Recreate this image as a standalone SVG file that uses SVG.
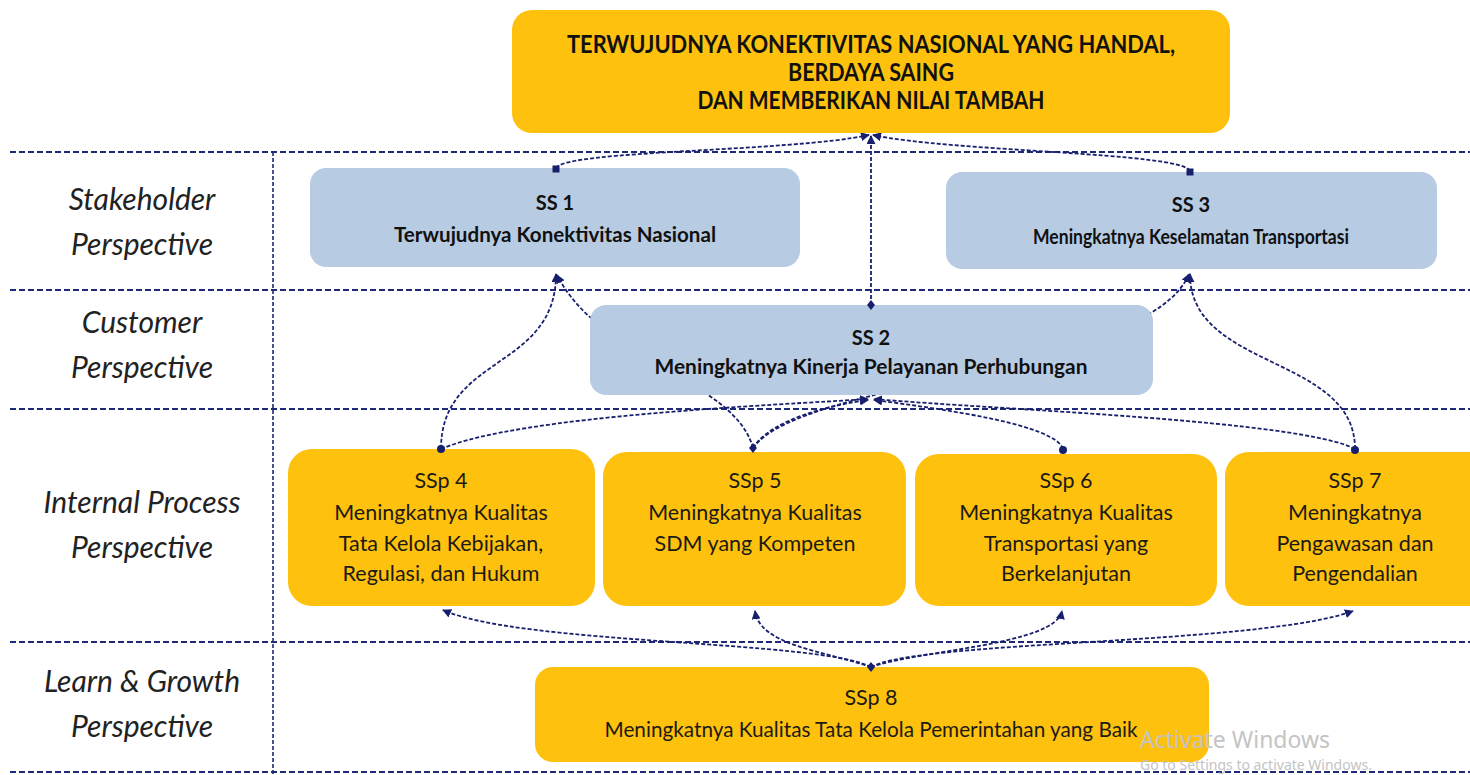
<svg xmlns="http://www.w3.org/2000/svg" width="1470" height="775" viewBox="0 0 1470 775">
<defs>
<style>
.gold{fill:#FEC10E;}
.blue{fill:#B7CBE3;}
.sep{stroke:#1E2A78;stroke-width:2;stroke-dasharray:6 3;fill:none;}
.con{stroke:#18206E;stroke-width:1.8;stroke-dasharray:4 2;fill:none;marker-end:url(#arr);}
.lab{font-family:Lato,"Open Sans",sans-serif;font-style:italic;font-size:30px;fill:#222;text-anchor:middle;}
.tt{font-family:Lato,"Open Sans",sans-serif;font-weight:bold;font-size:25px;fill:#111;text-anchor:middle;}
.bt{font-family:Lato,"Open Sans",sans-serif;font-weight:bold;font-size:20px;fill:#111;text-anchor:middle;}
.rt{font-family:Lato,"Open Sans",sans-serif;font-size:21.5px;fill:#1c1a14;text-anchor:middle;}
.dot{fill:#18206E;}
.wm{font-family:"Noto Sans","Open Sans",sans-serif;fill:#c4c4c4;}
</style>
<marker id="arr" viewBox="0 0 10 10" refX="9" refY="5" markerWidth="5" markerHeight="5" orient="auto" markerUnits="strokeWidth">
<path d="M0,0 L10,5 L0,10 z" fill="#18206E"/>
</marker>
</defs>
<rect width="1470" height="775" fill="#ffffff"/>

<g id="separators">
<line class="sep" x1="10" y1="152" x2="1470" y2="152"/>
<line class="sep" x1="10" y1="290" x2="1470" y2="290"/>
<line class="sep" x1="10" y1="409" x2="1470" y2="409"/>
<line class="sep" x1="10" y1="642" x2="1470" y2="642"/>
<line class="sep" x1="10" y1="772" x2="1470" y2="772"/>
<line class="sep" x1="273" y1="152" x2="273" y2="775" style="stroke-width:1.6;stroke-dasharray:4 2"/>
</g>

<g id="labels">
<text class="lab" x="142" y="210">Stakeholder</text>
<text class="lab" x="142" y="255">Perspective</text>
<text class="lab" x="142" y="333">Customer</text>
<text class="lab" x="142" y="378">Perspective</text>
<text class="lab" x="142" y="513">Internal Process</text>
<text class="lab" x="142" y="558">Perspective</text>
<text class="lab" x="142" y="692">Learn &amp; Growth</text>
<text class="lab" x="142" y="737">Perspective</text>
</g>

<g id="connectors">
<path class="con" d="M556,168 C565,150 790,152 869,135"/>
<path class="con" d="M1190,171 C1182,152 950,152 873,135"/>
<path class="con" d="M871,305 L871,136"/>
<path class="con" d="M441,449 C441,355 556,370 556,274"/>
<path class="con" d="M753,448 C735,380 600,360 557,275"/>
<path class="con" d="M753,448 C800,380 1150,370 1189,274"/>
<path class="con" d="M1355,449 C1355,355 1190,370 1190,274"/>
<path class="con" d="M441,449 C520,415 780,405 868,399"/>
<path class="con" d="M753,448 C770,420 830,405 868,400"/>
<path class="con" d="M1063,449 C1055,425 950,410 874,400"/>
<path class="con" d="M1355,449 C1300,420 1000,410 874,399"/>
<path class="con" d="M871,667 C820,640 520,645 443,610"/>
<path class="con" d="M871,667 C820,650 760,645 755,611"/>
<path class="con" d="M871,667 C920,650 1055,645 1062,611"/>
<path class="con" d="M871,667 C920,640 1260,645 1353,611"/>
</g>

<g id="goal">
<rect class="gold" x="512" y="10" width="718" height="123" rx="20"/>
<text class="tt" x="871" y="53" textLength="608" lengthAdjust="spacingAndGlyphs">TERWUJUDNYA KONEKTIVITAS NASIONAL YANG HANDAL,</text>
<text class="tt" x="871" y="81" textLength="166" lengthAdjust="spacingAndGlyphs">BERDAYA SAING</text>
<text class="tt" x="871" y="109" textLength="347" lengthAdjust="spacingAndGlyphs">DAN MEMBERIKAN NILAI TAMBAH</text>
</g>

<g id="ss1">
<rect class="blue" x="310" y="168" width="490" height="99" rx="16"/>
<text class="bt" x="555" y="210">SS 1</text>
<text class="bt" x="555" y="242" textLength="322" lengthAdjust="spacingAndGlyphs">Terwujudnya Konektivitas Nasional</text>
</g>

<g id="ss3">
<rect class="blue" x="946" y="172" width="491" height="97" rx="16"/>
<text class="bt" x="1191" y="212">SS 3</text>
<text class="bt" x="1191" y="244" textLength="316" lengthAdjust="spacingAndGlyphs">Meningkatnya Keselamatan Transportasi</text>
</g>

<g id="ss2">
<rect class="blue" x="590" y="305" width="563" height="90" rx="16"/>
<text class="bt" x="871" y="345">SS 2</text>
<text class="bt" x="871" y="374" textLength="433" lengthAdjust="spacingAndGlyphs">Meningkatnya Kinerja Pelayanan Perhubungan</text>
</g>

<g id="ssp4">
<rect class="gold" x="288" y="449" width="307" height="157" rx="24"/>
<text class="rt" x="441" y="488">SSp 4</text>
<text class="rt" x="441" y="520">Meningkatnya Kualitas</text>
<text class="rt" x="441" y="551">Tata Kelola Kebijakan,</text>
<text class="rt" x="441" y="581">Regulasi, dan Hukum</text>
</g>

<g id="ssp5">
<rect class="gold" x="603" y="452" width="303" height="154" rx="24"/>
<text class="rt" x="755" y="488">SSp 5</text>
<text class="rt" x="755" y="520">Meningkatnya Kualitas</text>
<text class="rt" x="755" y="551">SDM yang Kompeten</text>
</g>

<g id="ssp6">
<rect class="gold" x="915" y="454" width="302" height="152" rx="24"/>
<text class="rt" x="1066" y="488">SSp 6</text>
<text class="rt" x="1066" y="520">Meningkatnya Kualitas</text>
<text class="rt" x="1066" y="551">Transportasi yang</text>
<text class="rt" x="1066" y="581">Berkelanjutan</text>
</g>

<g id="ssp7">
<rect class="gold" x="1225" y="452" width="270" height="154" rx="24"/>
<text class="rt" x="1355" y="488">SSp 7</text>
<text class="rt" x="1355" y="520">Meningkatnya</text>
<text class="rt" x="1355" y="551">Pengawasan dan</text>
<text class="rt" x="1355" y="581">Pengendalian</text>
</g>

<g id="ssp8">
<rect class="gold" x="535" y="667" width="674" height="95" rx="18"/>
<text class="rt" x="871" y="705">SSp 8</text>
<text class="rt" x="871" y="737" textLength="533" lengthAdjust="spacingAndGlyphs">Meningkatnya Kualitas Tata Kelola Pemerintahan yang Baik</text>
</g>

<g id="connector-ends">
<rect class="dot" x="552.5" y="165.5" width="7" height="7"/>
<rect class="dot" x="1186.5" y="168.5" width="7" height="7"/>
<path class="dot" d="M871,300 L875,305 L871,310 L867,305 z"/>
<circle class="dot" cx="441" cy="449" r="4"/>
<path class="dot" d="M753,443 L757,448 L753,453 L749,448 z"/>
<circle class="dot" cx="1063" cy="450" r="4"/>
<circle class="dot" cx="1355" cy="450" r="4"/>
<path class="dot" d="M871,662 L875,667 L871,672 L867,667 z"/>
</g>

<g id="watermark">
<text class="wm" x="1140" y="748" font-size="23">Activate Windows</text>
<text class="wm" x="1140" y="770" font-size="14">Go to Settings to activate Windows.</text>
</g>
</svg>
